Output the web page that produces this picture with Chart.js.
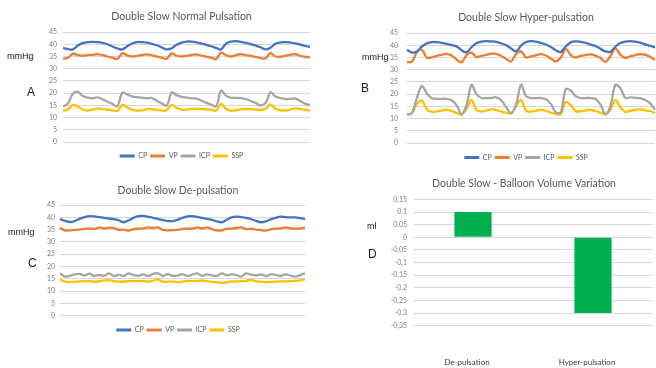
<!DOCTYPE html>
<html>
<head>
<meta charset="utf-8">
<script src="https://cdn.jsdelivr.net/npm/chart.js@4/dist/chart.umd.min.js"></script>
<style>
  html, body { margin: 0; padding: 0; background: #fff; overflow: hidden; }
  body { position: relative; width: 656px; height: 368px; }
  canvas { position: absolute; }
  .lbl { position: absolute; font-family: "Liberation Sans", Arial, sans-serif; color: #1a1a1a; white-space: nowrap; line-height: 1; }
</style>
</head>
<body>
<canvas id="chartA" width="295" height="170" style="left:34px;top:0px"></canvas>
<canvas id="chartB" width="282" height="172" style="left:385px;top:0px"></canvas>
<canvas id="chartC" width="296" height="176" style="left:30px;top:170px"></canvas>
<canvas id="chartD" width="278" height="230" style="left:385px;top:170px"></canvas>

<div class="lbl" style="left:7px;top:52px;font-size:9px">mmHg</div>
<div class="lbl" style="left:27px;top:86px;font-size:12px">A</div>
<div class="lbl" style="left:362px;top:53px;font-size:9px">mmHg</div>
<div class="lbl" style="left:361px;top:82px;font-size:12px">B</div>
<div class="lbl" style="left:8px;top:228px;font-size:9px">mmHg</div>
<div class="lbl" style="left:28px;top:257px;font-size:12px">C</div>
<div class="lbl" style="left:367px;top:222px;font-size:9px">ml</div>
<div class="lbl" style="left:368px;top:248px;font-size:12px">D</div>

<script>
// Pressure traces (mmHg), one array per signal and manoeuvre
const pressureSeries = ['CP', 'VP', 'ICP', 'SSP'];
const seriesColors = ['#4472C4', '#ED7D31', '#A5A5A5', '#FFC000'];
const pressureTicks = [0, 5, 10, 15, 20, 25, 30, 35, 40, 45];

const normalCP = [38.5,38.0,37.9,39.5,40.5,40.9,41.0,40.9,40.6,40.0,
  39.1,38.3,37.9,39.2,40.3,40.9,40.9,40.7,40.2,39.6,
  38.7,37.9,38.4,39.8,40.7,41.1,41.1,40.8,40.3,39.8,
  39.2,38.5,37.9,40.3,41.1,41.3,41.0,40.6,40.1,39.5,
  38.8,37.9,38.6,40.2,40.8,40.9,40.7,40.4,39.9,39.3,38.9];
const normalVP = [34.0,34.5,36.2,35.6,35.3,35.6,35.7,36.0,35.6,35.0,
  34.5,34.0,36.3,35.5,35.0,35.3,35.6,35.9,35.5,35.0,
  34.5,34.1,36.3,35.3,35.0,35.3,35.6,35.9,35.4,35.0,
  34.5,34.0,36.6,35.5,35.0,35.6,36.0,35.6,35.3,34.8,
  34.3,34.3,36.4,35.0,34.9,35.3,35.7,36.0,35.3,34.9,34.6];
const normalICP = [14.6,15.8,19.8,20.5,18.8,18.2,17.9,18.3,17.5,16.5,
  15.6,14.6,20.2,19.5,18.6,18.4,18.1,17.9,18.0,16.9,
  15.8,14.9,20.2,19.2,18.5,18.2,17.9,17.8,16.9,16.1,
  15.3,14.6,21.0,19.0,18.1,18.1,18.0,17.6,16.8,16.0,
  15.0,16.0,20.4,18.6,18.0,17.6,17.7,17.8,16.8,15.7,15.1];
const normalSSP = [12.8,13.3,15.2,14.6,13.3,12.9,13.2,13.7,13.5,13.2,
  13.0,12.7,15.2,14.2,13.2,12.9,12.9,13.5,13.4,13.1,
  12.9,13.0,15.2,14.0,13.2,13.3,13.5,13.6,13.5,13.4,
  13.1,12.9,15.6,13.6,12.8,13.0,13.4,13.5,13.4,13.3,
  13.1,13.6,15.4,13.6,13.0,12.9,13.3,13.8,13.5,13.2,12.8];

const hyperCP = [38.2,37.0,37.5,39.5,40.8,41.3,41.3,41.0,40.6,40.1,
  39.5,38.0,37.1,39.2,40.8,41.5,41.7,41.6,41.4,40.8,
  40.0,38.7,37.5,39.9,41.3,41.7,41.5,41.0,40.3,39.3,
  38.0,37.2,39.5,41.2,41.6,41.4,41.0,40.3,39.7,38.6,
  37.5,37.3,39.4,40.9,41.5,41.7,41.5,41.1,40.4,39.8,39.1];
const hyperVP = [33.1,33.3,37.2,38.2,34.9,35.1,35.7,36.1,36.5,35.8,
  34.2,33.0,36.0,37.0,35.2,35.7,36.1,36.6,36.5,35.6,
  34.4,33.4,36.5,37.5,35.0,35.5,35.9,36.4,35.8,34.6,
  33.4,35.0,38.5,36.0,35.0,35.7,36.0,36.3,35.8,34.8,
  33.2,35.5,38.7,36.2,34.8,35.5,36.0,36.4,36.2,35.3,34.1];
const hyperICP = [11.6,12.3,18.5,23.3,20.3,18.3,18.1,18.1,18.1,17.5,
  15.5,11.8,15.5,23.8,20.0,18.4,18.4,18.5,18.7,17.5,
  14.6,12.2,15.8,23.8,19.2,18.4,18.4,18.4,17.9,16.0,
  12.5,12.6,22.0,21.5,19.2,18.4,18.4,18.4,18.0,15.8,
  11.8,15.0,23.8,22.5,18.5,18.7,18.5,18.4,17.6,16.3,13.6];
const hyperSSP = [11.6,12.3,16.0,17.4,13.8,12.7,12.9,13.3,13.6,13.1,
  12.3,11.6,14.0,17.6,13.5,12.9,13.3,13.8,13.6,12.8,
  12.4,12.1,15.0,17.6,13.2,12.9,13.2,13.6,13.2,12.4,
  11.9,11.7,16.8,15.5,13.0,13.0,13.3,13.6,13.1,12.4,
  11.7,13.5,17.6,14.8,12.8,13.2,13.5,13.8,13.4,13.1,12.3];

const deCP = [39.3,38.6,38.1,38.5,39.4,40.1,40.5,40.4,40.1,39.8,
  39.5,39.3,38.8,38.0,38.8,39.8,40.5,40.6,40.2,39.8,
  39.3,38.9,38.5,38.5,39.0,39.8,40.4,40.5,40.2,39.8,
  39.4,39.0,38.4,38.0,39.0,40.0,40.3,40.1,39.8,39.3,
  38.6,38.0,38.4,39.2,39.8,40.3,40.1,40.0,40.0,39.7,39.3];
const deVP = [35.8,34.7,34.7,34.9,35.0,35.3,35.5,35.3,35.9,35.5,
  35.8,35.6,34.9,35.0,34.6,35.2,35.4,35.5,35.9,35.7,
  35.9,34.9,34.7,34.8,34.9,35.3,35.4,35.4,35.9,35.5,
  35.9,35.2,34.7,34.7,35.3,35.4,35.7,35.9,35.2,35.4,
  35.0,34.8,34.6,35.1,35.4,35.5,35.9,35.6,35.4,35.5,35.9];
const deICP = [17.2,15.9,16.2,16.8,17.0,16.3,17.1,16.2,16.6,16.2,
  17.2,16.1,16.7,16.1,17.2,16.5,16.2,16.8,16.1,17.0,
  17.2,16.1,16.9,16.2,16.3,16.9,16.1,16.7,17.2,16.2,
  16.8,16.4,16.1,17.2,16.4,16.8,16.5,15.9,17.2,16.7,
  16.4,16.8,16.1,16.8,16.6,16.1,16.8,16.3,15.9,16.5,17.2];
const deSSP = [14.8,13.8,13.7,13.8,13.9,14.0,14.1,13.7,14.0,14.3,
  14.5,14.0,13.8,13.8,14.0,14.0,14.1,14.0,13.8,14.2,
  14.8,13.8,13.8,13.9,13.6,13.8,14.1,14.1,14.1,14.3,
  14.0,13.7,13.6,13.3,13.6,13.9,13.9,14.0,14.1,14.6,
  14.0,13.8,13.6,13.7,13.8,13.9,13.9,14.0,14.1,14.3,14.8];

// Balloon volume change (ml)
const volumeCategories = ['De-pulsation', 'Hyper-pulsation'];
const volumeChange = [0.1, -0.3];
const volumeTicks = [-0.35, -0.3, -0.25, -0.2, -0.15, -0.1, -0.05, 0, 0.05, 0.1, 0.15];

const GRID = '#d9d9d9';
const TICK = '#808080';
const TEXT = '#595959';

function lineLegendLabels(chart) {
  return Chart.defaults.plugins.legend.labels.generateLabels(chart)
    .map(item => Object.assign(item, { lineWidth: 0, fillStyle: item.strokeStyle }));
}

// Empty right-hand spacer axis: it only reserves width, so the title and
// legend sit a few pixels left of the plot-area centre.
function spacerAxis(width) {
  return {
    position: 'right',
    display: true,
    grid: { display: false, drawTicks: false },
    border: { display: false },
    ticks: { display: false },
    afterFit: s => { s.width = width; }
  };
}

function pressureChart(id, title, values, g) {
  return new Chart(document.getElementById(id), {
    type: 'line',
    data: {
      labels: values[0].map((_, i) => i + 1),
      datasets: pressureSeries.map((name, k) => ({
        label: name,
        data: values[k],
        borderColor: seriesColors[k],
        backgroundColor: seriesColors[k],
        borderWidth: 2.3,
        pointRadius: 0,
        tension: 0.35,
        fill: false
      }))
    },
    options: {
      responsive: false,
      animation: false,
      events: [],
      layout: { padding: { top: g.padTop, right: 0, bottom: g.padBottom, left: 0 } },
      plugins: {
        title: {
          display: true, text: title, color: TEXT,
          font: { family: 'Lato', size: 10.5, weight: 'normal', lineHeight: 1.15 },
          padding: { top: g.titleTop, bottom: g.titleBottom }
        },
        legend: {
          position: 'bottom',
          labels: {
            boxWidth: 15, boxHeight: 3, padding: 3, color: TEXT,
            font: { family: 'Lato', size: 7 },
            generateLabels: lineLegendLabels
          }
        },
        tooltip: { enabled: false }
      },
      scales: {
        x: {
          grid: { display: true, drawOnChartArea: false, drawTicks: true, tickLength: g.legendGap, color: 'rgba(0,0,0,0)' },
          border: { display: false },
          ticks: { display: false }
        },
        y: {
          min: pressureTicks[0],
          max: pressureTicks[pressureTicks.length - 1],
          afterBuildTicks: s => { s.ticks = pressureTicks.map(v => ({ value: v })); },
          afterFit: s => { s.width = g.axisWidth; },
          grid: { color: GRID, lineWidth: 1, drawTicks: false },
          border: { display: false },
          ticks: { autoSkip: false, padding: g.tickGap, color: TICK, font: { family: 'Lato', size: 7 } }
        },
        spacer: spacerAxis(g.spacer)
      }
    }
  });
}

pressureChart('chartA', 'Double Slow Normal Pulsation',
  [normalCP, normalVP, normalICP, normalSSP],
  { padTop: 4, titleTop: 7, titleBottom: 9, padBottom: 0.5, legendGap: 7.5, axisWidth: 29, tickGap: 6, spacer: 19 });

pressureChart('chartB', 'Double Slow Hyper-pulsation',
  [hyperCP, hyperVP, hyperICP, hyperSSP],
  { padTop: 5, titleTop: 7, titleBottom: 9, padBottom: 1, legendGap: 8, axisWidth: 22, tickGap: 9, spacer: 12 });

pressureChart('chartC', 'Double Slow De-pulsation',
  [deCP, deVP, deICP, deSSP],
  { padTop: 8, titleTop: 7, titleBottom: 8, padBottom: 2.4, legendGap: 8, axisWidth: 30, tickGap: 5, spacer: 21 });

new Chart(document.getElementById('chartD'), {
  type: 'bar',
  data: {
    labels: volumeCategories,
    datasets: [{
      label: 'Balloon volume',
      data: volumeChange,
      backgroundColor: '#00B050',
      borderWidth: 0,
      barPercentage: 0.31,
      categoryPercentage: 1
    }]
  },
  options: {
    responsive: false,
    animation: false,
    events: [],
    layout: { padding: { top: 2, right: 0, bottom: 0.7, left: 0 } },
    plugins: {
      title: {
        display: true, text: 'Double Slow - Balloon Volume Variation', color: TEXT,
        font: { family: 'Lato', size: 10.5, weight: 'normal', lineHeight: 1.15 },
        padding: { top: 6, bottom: 9.3 }
      },
      legend: { display: false },
      tooltip: { enabled: false }
    },
    scales: {
      x: {
        grid: { display: false, drawTicks: false },
        border: { display: false },
        ticks: { padding: 32, labelOffset: -6, color: '#404040', font: { family: 'Lato', size: 8 } }
      },
      y: {
        min: volumeTicks[0],
        max: volumeTicks[volumeTicks.length - 1],
        afterBuildTicks: s => { s.ticks = volumeTicks.map(v => ({ value: v })); },
        afterFit: s => { s.width = 28; },
        grid: { color: GRID, lineWidth: 1, drawTicks: false },
        border: { display: false },
        ticks: {
          autoSkip: false, padding: 6, color: TICK, font: { family: 'Lato', size: 7 },
          callback: v => String(Math.round(v * 100) / 100).replace('.', ',')
        }
      },
      spacer: spacerAxis(10)
    }
  }
});
</script>
</body>
</html>
